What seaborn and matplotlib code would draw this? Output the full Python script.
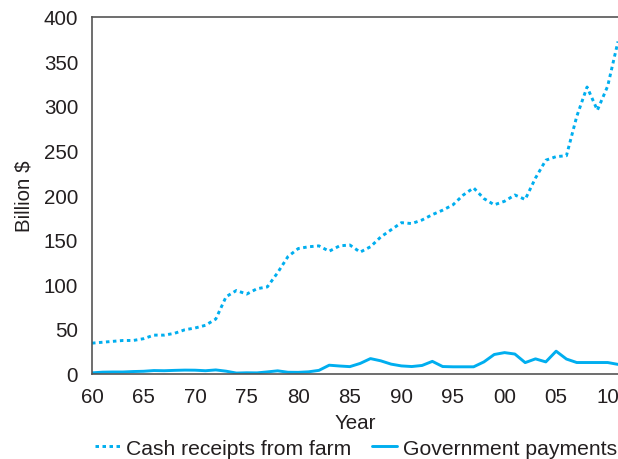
import matplotlib
matplotlib.use("Agg")
import matplotlib.pyplot as plt
import seaborn as sns
import pandas as pd
from matplotlib.lines import Line2D

years = list(range(1960, 2012))
cash_receipts = [34, 35, 36, 37, 37, 39, 43, 43, 45, 49, 51, 54, 61, 86, 93, 89, 95, 97, 113, 131,
                 140, 142, 143, 137, 143, 144, 136, 142, 153, 161, 169, 168, 172, 178, 183, 189,
                 200, 208, 196, 189, 193, 200, 195, 219, 239, 243, 244, 288, 321, 295, 322, 372]
gov_payments = [0.7, 1.5, 1.7, 1.7, 2.2, 2.5, 3.3, 3.1, 3.5, 3.8, 3.7, 3.1, 4.0, 2.6, 0.5, 0.8,
                0.7, 1.8, 3.0, 1.4, 1.3, 1.9, 3.5, 9.3, 8.4, 7.7, 11.3, 16.7, 14.2, 10.5, 8.5,
                7.8, 9.0, 13.6, 7.8, 7.5, 7.5, 7.5, 13.0, 21.3, 23.4, 21.8, 12.2, 16.4, 13.0,
                25.0, 16.2, 12.3, 12.3, 12.3, 12.3, 10.2]
series_names = ["Cash receipts from farm", "Government payments"]
xtick_vals = list(range(1960, 2011, 5))
xtick_labels = ["60", "65", "70", "75", "80", "85", "90", "95", "00", "05", "10"]
ytick_vals = list(range(0, 401, 50))

sns.set_style("white")
plt.rcParams['font.family'] = ['Liberation Sans', 'DejaVu Sans']

color = "#00AEEF"
spine_col = "#555555"
text_col = "#231F20"
fs = 14.8
dots = (0, (1.2, 1.2))

df_cash = pd.DataFrame({"Year": years, "Value": cash_receipts})
df_gov = pd.DataFrame({"Year": years, "Value": gov_payments})

fig = plt.figure(figsize=(6.18, 4.60), dpi=100)
L, B, T = 92, 374.5, 17.5
ax = fig.add_axes([L/618, 1 - B/460, (618 - L)/618, (B - T)/460])

sns.lineplot(data=df_cash, x="Year", y="Value", ax=ax, color=color, lw=2.1, linestyle=dots)
sns.lineplot(data=df_gov, x="Year", y="Value", ax=ax, color=color, lw=2.1, linestyle="-")

ax.set_xlim(1960, 2011)
ax.set_ylim(0, 400)
ax.set_xticks(xtick_vals)
ax.set_xticklabels(xtick_labels)
ax.set_yticks(ytick_vals)
ax.tick_params(axis="both", direction="out", length=5, width=1, color=spine_col,
               labelsize=fs, labelcolor=text_col, pad=5)

for side in ["left", "bottom", "top"]:
    ax.spines[side].set_visible(True)
    ax.spines[side].set_color(spine_col)
    ax.spines[side].set_linewidth(1.2)
ax.spines["right"].set_visible(False)

ax.set_xlabel("Year", fontsize=fs, color=text_col, labelpad=5)
ax.set_ylabel("Billion $", fontsize=fs, color=text_col, labelpad=7)

handles = [Line2D([0], [0], color=color, lw=2.1, linestyle=dots),
           Line2D([0], [0], color=color, lw=2.1, linestyle="-")]
fig.legend(handles, series_names, loc="lower left", bbox_to_anchor=(95/618, 0.003),
           ncol=2, frameon=False, fontsize=15.2, handlelength=1.2, handletextpad=0.29,
           columnspacing=0.95, borderpad=0, borderaxespad=0, labelcolor=text_col)

fig.savefig("out.png", dpi=100)
